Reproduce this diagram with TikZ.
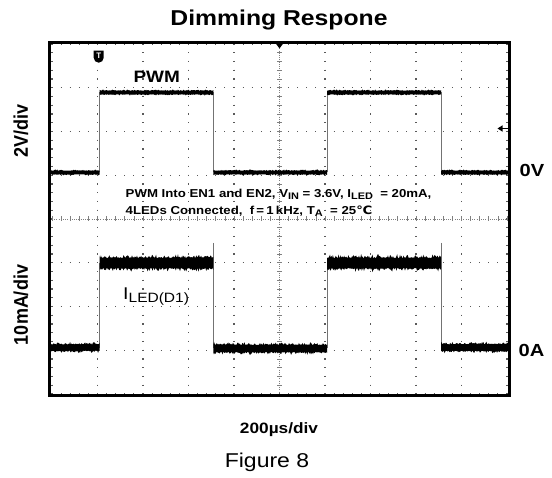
\documentclass[tikz,border=0pt]{standalone}
\usepackage{fontspec}
\setmainfont{Liberation Sans}
\newfontfamily\djv{DejaVu Sans}
\usetikzlibrary{arrows.meta}
\newcommand\lsub[1]{\raisebox{-2.4pt}{\fontsize{9.5}{9.5}\selectfont #1}}
\newcommand\stretched[1]{\scalebox{1.15}[1]{#1}}
% noisy trace band: x1, x2, centre y, half width, noise amplitude
\newcommand\noiseband[5]{%
  \pgfmathtruncatemacro\nsamp{(#2-#1)/0.7}%
  \fill[black] (#1,{#3-#4}) -- plot[domain=#1:#2, samples=\nsamp] (\x,{#3-#4-rnd*rnd*#5})
    -- (#2,{#3+#4}) -- plot[domain=#2:#1, samples=\nsamp] (\x,{#3+#4+rnd*rnd*#5}) -- cycle;}
\begin{document}
\begin{tikzpicture}[x=1pt,y=-1pt,
  lbl/.style={inner sep=0pt, font=\bfseries},
  gdot/.style={black!65, line width=1.1pt},
  axisline/.style={black!50, line width=0.8pt},
  edge/.style={black!55, line width=0.9pt}]
\useasboundingbox (0,0) rectangle (552,478);
\fill[white] (0,0) rectangle (552,478);
\pgfmathsetseed{7}
% grid
\foreach \k in {-5,-4,-3,-2,-1,1,2,3,4,5}
  \draw[gdot, dash pattern=on 1.1pt off 7.65pt] ({279.5+\k*45.5},43.45) -- ({279.5+\k*45.5},394.55);
\foreach \k in {-4,-3,-2,-1,1,2,3,4}
  \draw[gdot, dash pattern=on 1.1pt off 8pt] (51.45,{219+\k*43.75}) -- (507.55,{219+\k*43.75});
% centre axes
\draw[axisline, dash pattern=on 1pt off 1.2pt] (52,219) -- (507,219);
\draw[axisline, dash pattern=on 1pt off 1.2pt] (279.5,44) -- (279.5,394);
\foreach \i in {0,...,50}
  \draw[axisline] ({52+\i*9.1},216.5) -- ({52+\i*9.1},221.5);
\foreach \i in {0,...,40}
  \draw[axisline] (277,{44+\i*8.75}) -- (282,{44+\i*8.75});
% frame
\draw[black, line width=2.5pt] (49.5,42.5) rectangle (509.5,395.5);
% trigger marks
\fill[black] (275,42.5) -- (284,42.5) -- (279.5,48.5) -- cycle;
\fill[black] (93.7,50.7) -- (103.7,50.7) -- (103.7,57.7) arc[start angle=0, end angle=180, x radius=5, y radius=5] -- cycle;
\node[inner sep=0pt, text=white, font=\bfseries\fontsize{8}{8}\selectfont] (tmark) at (98.7,56) {T};
\coordinate (arrtail) at (508,128.5);
\coordinate (arrhead) at (497.5,128.5);
\draw[black, line width=1.3pt, -{Triangle[length=5pt,width=6pt]}] (arrtail) -- (arrhead);
% PWM trace
\draw[edge] (99.5,172.5) -- (99.5,92.5);
\draw[edge] (213.3,92.5) -- (213.3,172.5);
\draw[edge] (327.2,172.5) -- (327.2,92.5);
\draw[edge] (441,92.5) -- (441,172.5);
\noiseband{50}{99.5}{172.5}{1.8}{1.4}
\noiseband{99.5}{213.3}{92.5}{1.8}{1.4}
\noiseband{213.3}{327.2}{172.5}{1.8}{1.4}
\noiseband{327.2}{441}{92.5}{1.8}{1.4}
\noiseband{441}{509}{172.5}{1.8}{1.4}
% LED trace
\draw[edge] (99.5,348) -- (99.5,263);
\draw[edge] (213.3,243) -- (213.3,348);
\draw[edge] (327.2,348) -- (327.2,263);
\draw[edge] (441,243) -- (441,348);
\noiseband{50}{99.5}{347.5}{3}{3}
\noiseband{99.5}{213.3}{263}{5}{4.5}
\noiseband{213.3}{327.2}{348.5}{3.5}{3.2}
\noiseband{327.2}{441}{263}{5}{4.5}
\noiseband{441}{509}{347.5}{3.2}{3}
% texts
\node[lbl, anchor=base] (title) at (279,25.5) {\fontsize{21.5}{21.5}\selectfont\stretched{Dimming Respone}};
\node[lbl, anchor=base] (pwm) at (156.7,82.7) {\fontsize{16.5}{16.5}\selectfont\stretched{PWM}};
\node[lbl, anchor=west] (zv) at (519.5,170) {\fontsize{17.5}{17.5}\selectfont\stretched{0V}};
\node[lbl, anchor=west] (za) at (518.5,350) {\fontsize{17.5}{17.5}\selectfont\stretched{0A}};
\node[lbl, rotate=90] (vdiv) at (21,131) {\fontsize{18}{18}\selectfont\scalebox{1}[1.1]{2V/div}};
\node[lbl, rotate=90] (adiv) at (21,305) {\fontsize{18}{18}\selectfont\scalebox{1}[1.1]{10mA/div}};
\node[lbl, anchor=base west] (ann1) at (125.5,197.5) {\fontsize{11.5}{11.5}\selectfont\stretched{PWM Into EN1 and EN2, V\lsub{IN} = 3.6V, I\lsub{LED}\ \ = 20mA,}};
\node[lbl, anchor=base west] (ann2) at (125.5,214.3) {\fontsize{11.5}{11.5}\selectfont\stretched{4LEDs Connected,\ \ f\,=\,1\,kHz, T\lsub{A}\ \ = 25{\djv\bfseries ℃}}};
\node[inner sep=0pt, anchor=base west] (iled) at (123,299.4) {\fontsize{17}{17}\selectfont\stretched{I\raisebox{-3.5pt}{\fontsize{13.5}{13.5}\selectfont LED(D1)}}};
\node[lbl, anchor=base] (tdiv) at (279,433.3) {\fontsize{15}{15}\selectfont\stretched{200µs/div}};
\node[inner sep=0pt, anchor=base] (fig) at (267,467.3) {\fontsize{20}{20}\selectfont\stretched{Figure 8}};
\end{tikzpicture}
\end{document}
